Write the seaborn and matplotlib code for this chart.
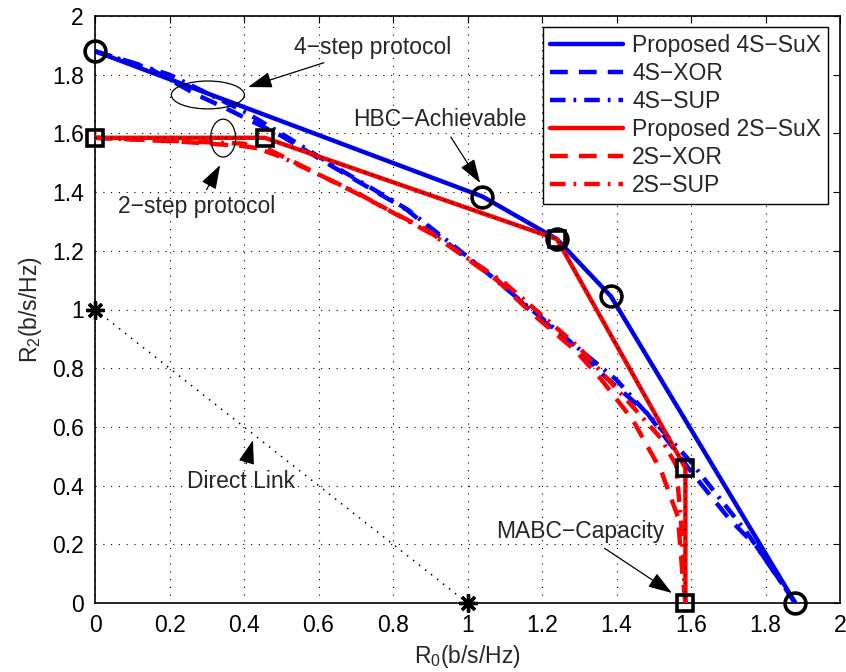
import numpy as np
import pandas as pd
import matplotlib
matplotlib.use("Agg")
import matplotlib.pyplot as plt
from matplotlib.patches import Ellipse
import seaborn as sns

# ---- data ----
x_4s_sux = [0.0, 1.04, 1.24, 1.385, 1.88]
y_4s_sux = [1.88, 1.385, 1.24, 1.045, 0.0]

x_4s_xor = [0.0, 0.14, 0.274, 0.344, 0.497, 0.639, 0.838, 0.98, 1.06, 1.176, 1.302, 1.364, 1.482, 1.597, 1.705, 1.777, 1.88]
y_4s_xor = [1.88, 1.826, 1.731, 1.69, 1.594, 1.486, 1.339, 1.192, 1.124, 0.988, 0.862, 0.777, 0.647, 0.453, 0.283, 0.191, 0.0]

x_4s_sup = [0.0, 0.2, 0.4, 0.5, 0.64, 0.84, 1.0, 1.2, 1.4, 1.6, 1.75, 1.88]
y_4s_sup = [1.88, 1.80, 1.675, 1.60, 1.49, 1.34, 1.18, 0.97, 0.76, 0.48, 0.24, 0.0]

x_2s_sux = [0.0, 0.456, 1.24, 1.585, 1.585]
y_2s_sux = [1.585, 1.585, 1.24, 0.46, 0.0]

x_2s_xor = [0.0, 0.228, 0.397, 0.47, 0.685, 0.891, 1.079, 1.17, 1.29, 1.36, 1.444, 1.52, 1.565, 1.577, 1.585]
y_2s_xor = [1.585, 1.572, 1.557, 1.543, 1.407, 1.271, 1.10, 0.99, 0.86, 0.76, 0.623, 0.45, 0.293, 0.10, 0.0]

x_2s_sup = [0.0, 0.2, 0.4, 0.5, 0.7, 0.9, 1.1, 1.3, 1.45, 1.52, 1.56, 1.575, 1.585]
y_2s_sup = [1.585, 1.575, 1.565, 1.52, 1.40, 1.26, 1.09, 0.87, 0.66, 0.56, 0.47, 0.25, 0.0]

x_direct = [0.0, 1.0]
y_direct = [1.0, 0.0]

x_hbc_pts = [0.0, 1.04, 1.24, 1.385, 1.88]
y_hbc_pts = [1.88, 1.385, 1.24, 1.045, 0.0]
x_mabc_pts = [0.0, 0.456, 1.24, 1.585, 1.585]
y_mabc_pts = [1.585, 1.585, 1.24, 0.46, 0.0]

series_labels = ["Proposed 4S\u2212SuX", "4S\u2212XOR", "4S\u2212SUP",
                 "Proposed 2S\u2212SuX", "2S\u2212XOR", "2S\u2212SUP"]
ticks = [0, 0.2, 0.4, 0.6, 0.8, 1, 1.2, 1.4, 1.6, 1.8, 2]
tick_labels = ["0", "0.2", "0.4", "0.6", "0.8", "1", "1.2", "1.4", "1.6", "1.8", "2"]

# ---- style ----
FS = 16.5
sns.set_style("white")
plt.rcParams['font.family'] = ['Liberation Sans', 'DejaVu Sans']
plt.rcParams['font.size'] = FS
plt.rcParams['mathtext.fontset'] = 'custom'
plt.rcParams['mathtext.rm'] = 'Liberation Sans'
plt.rcParams['mathtext.it'] = 'Liberation Sans'

fig = plt.figure(figsize=(8.46, 6.72), dpi=100)
ax = fig.add_axes([95/846, 1-603/672, 745/846, 587/672])

LW = 3.2
dash = (0, (4, 2.5))
dashdot = (0, (3.5, 1.8, 0.6, 1.8))

specs = [
    (x_4s_sux, y_4s_sux, "blue", "-", series_labels[0]),
    (x_4s_xor, y_4s_xor, "blue", dash, series_labels[1]),
    (x_4s_sup, y_4s_sup, "blue", dashdot, series_labels[2]),
    (x_2s_sux, y_2s_sux, "red", "-", series_labels[3]),
    (x_2s_xor, y_2s_xor, "red", dash, series_labels[4]),
    (x_2s_sup, y_2s_sup, "red", dashdot, series_labels[5]),
]
order = [2, 1, 5, 4, 0, 3]
for i in order:
    xs, ys, c, ls, lab = specs[i]
    df = pd.DataFrame({"x": xs, "y": ys})
    sns.lineplot(data=df, x="x", y="y", sort=False, estimator=None, ax=ax,
                 color=c, linewidth=LW, linestyle=ls, label=lab, zorder=3 + (i in (0, 3)))

# thin black dotted overlay on the solid lines
for xs, ys in [(x_4s_sux, y_4s_sux), (x_2s_sux, y_2s_sux)]:
    ax.plot(xs, ys, color="black", linewidth=1.0, linestyle=(0, (1.5, 4)), zorder=5)

# direct link
sns.lineplot(x=x_direct, y=y_direct, sort=False, estimator=None, ax=ax, color="black",
             linewidth=1.1, linestyle=(0, (1, 4)), zorder=3, legend=False)
ax.plot(x_direct, y_direct, linestyle="none", marker=(8, 2, 0), markersize=13,
        color="black", markeredgewidth=2.4, zorder=6, clip_on=False)

# markers
ax.plot(x_hbc_pts, y_hbc_pts, linestyle="none", marker="o", markersize=15,
        markerfacecolor="none", markeredgecolor="black", markeredgewidth=2.6, zorder=7, clip_on=False)
ax.plot(x_mabc_pts, y_mabc_pts, linestyle="none", marker="s", markersize=12,
        markerfacecolor="none", markeredgecolor="black", markeredgewidth=2.6, zorder=7, clip_on=False)

# legend
hs, ls_ = ax.get_legend_handles_labels()
lab_to_h = dict(zip(ls_, hs))
leg = ax.legend([lab_to_h[l] for l in series_labels], series_labels, loc="upper right",
                bbox_to_anchor=((828-95)/745, (603-27)/587), frameon=True, fancybox=False,
                edgecolor="black", framealpha=1, handlelength=3.2, handletextpad=0.4,
                labelspacing=0.22, borderpad=0.3, borderaxespad=0.0, fontsize=FS)
leg.get_frame().set_linewidth(1.0)
leg.set_zorder(10)

# annotations
ann_kw = dict(arrowstyle="-|>,head_length=0.9,head_width=0.3", color="black", lw=0.9,
              shrinkA=2, shrinkB=0)
ax.annotate("4\u2212step protocol", xy=(0.411, 1.758), xytext=(0.745, 1.894),
            ha="center", va="center", fontsize=FS, arrowprops=ann_kw, zorder=8)
ax.add_patch(Ellipse((0.303, 1.731), 0.196, 0.095, fill=False, edgecolor="black", lw=0.9, zorder=8))
ax.annotate("2\u2212step protocol", xy=(0.336, 1.492), xytext=(0.274, 1.35),
            ha="center", va="center", fontsize=FS, arrowprops=ann_kw, zorder=8)
ax.add_patch(Ellipse((0.344, 1.584), 0.067, 0.129, fill=False, edgecolor="black", lw=0.9, zorder=8))
ax.annotate("HBC\u2212Achievable", xy=(1.034, 1.431), xytext=(0.926, 1.646),
            ha="center", va="center", fontsize=FS, arrowprops=ann_kw, zorder=8)
ax.annotate("MABC\u2212Capacity", xy=(1.549, 0.034), xytext=(1.302, 0.242),
            ha="center", va="center", fontsize=FS, arrowprops=ann_kw, zorder=8)
ax.annotate("Direct Link", xy=(0.424, 0.555), xytext=(0.392, 0.415),
            ha="center", va="center", fontsize=FS, arrowprops=ann_kw, zorder=8)

# axes
ax.set_xlim(0, 2)
ax.set_ylim(0, 2)
ax.set_xticks(ticks)
ax.set_xticklabels(tick_labels)
ax.set_yticks(ticks)
ax.set_yticklabels(tick_labels)
ax.tick_params(direction="in", length=5, width=0.8, top=True, right=True, labelsize=FS,
               colors="black", pad=8)
ax.grid(True, color="black", linestyle=(0, (1, 6)), linewidth=0.8)
for s in ax.spines.values():
    s.set_color("black")
    s.set_linewidth(1.2)
ax.set_xlabel("R$_0$(b/s/Hz)", fontsize=FS, labelpad=4)
ax.set_ylabel("R$_2$(b/s/Hz)", fontsize=FS, labelpad=6)

fig.savefig("out.png", dpi=100)
